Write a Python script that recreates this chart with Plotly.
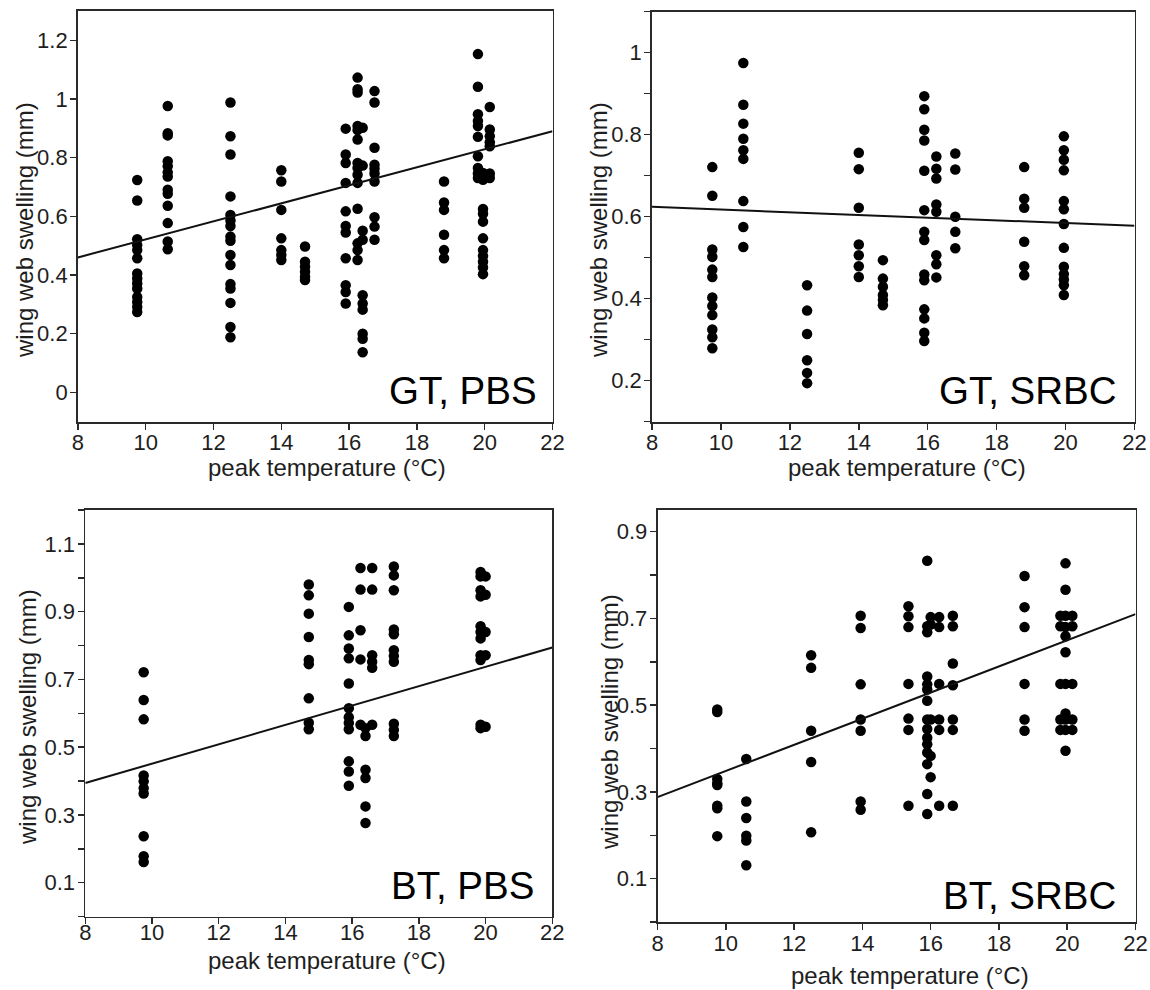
import plotly.graph_objects as go

# ---------------- data ----------------
gt_pbs_temps = [9.75, 10.65, 12.5, 14.0, 14.7, 15.9, 16.25, 16.4, 16.75, 18.8, 19.8, 19.95, 20.15]
gt_pbs_values = [
    [0.724, 0.654, 0.522, 0.502, 0.485, 0.457, 0.405, 0.388, 0.371, 0.354, 0.325, 0.308, 0.291, 0.274],
    [0.976, 0.883, 0.876, 0.788, 0.771, 0.750, 0.736, 0.691, 0.677, 0.636, 0.577, 0.514, 0.488],
    [0.988, 0.873, 0.811, 0.668, 0.605, 0.586, 0.567, 0.531, 0.517, 0.468, 0.434, 0.369, 0.354, 0.305, 0.223, 0.188],
    [0.757, 0.719, 0.622, 0.525, 0.485, 0.468, 0.451],
    [0.497, 0.445, 0.428, 0.411, 0.394, 0.383],
    [0.899, 0.811, 0.782, 0.714, 0.617, 0.567, 0.545, 0.457, 0.365, 0.342, 0.303],
    [1.073, 1.033, 1.022, 0.908, 0.894, 0.862, 0.782, 0.765, 0.742, 0.714, 0.626, 0.508, 0.485, 0.451],
    [0.902, 0.773, 0.551, 0.520, 0.331, 0.303, 0.282, 0.200, 0.183, 0.137],
    [1.027, 0.988, 0.834, 0.776, 0.762, 0.746, 0.719, 0.597, 0.565, 0.520],
    [0.719, 0.647, 0.622, 0.537, 0.485, 0.457],
    [1.153, 1.042, 0.948, 0.925, 0.908, 0.871, 0.805, 0.765, 0.746, 0.731],
    [0.748, 0.725, 0.625, 0.609, 0.582, 0.525, 0.485, 0.465, 0.445, 0.426, 0.403],
    [0.973, 0.896, 0.873, 0.853, 0.839, 0.746, 0.731],
]

gt_srbc_temps = [9.75, 10.65, 12.5, 14.0, 14.7, 15.9, 16.25, 16.8, 18.8, 19.95]
gt_srbc_values = [
    [0.721, 0.651, 0.520, 0.502, 0.471, 0.453, 0.403, 0.382, 0.360, 0.325, 0.306, 0.279],
    [0.975, 0.873, 0.827, 0.790, 0.762, 0.741, 0.638, 0.575, 0.526],
    [0.433, 0.371, 0.314, 0.250, 0.219, 0.194],
    [0.756, 0.716, 0.622, 0.532, 0.506, 0.479, 0.453],
    [0.494, 0.449, 0.429, 0.409, 0.397, 0.384],
    [0.894, 0.862, 0.812, 0.786, 0.712, 0.616, 0.563, 0.543, 0.459, 0.445, 0.374, 0.352, 0.317, 0.297],
    [0.747, 0.717, 0.693, 0.630, 0.612, 0.506, 0.484, 0.452],
    [0.754, 0.715, 0.600, 0.563, 0.523],
    [0.721, 0.644, 0.622, 0.539, 0.479, 0.457],
    [0.796, 0.762, 0.739, 0.713, 0.638, 0.618, 0.582, 0.524, 0.478, 0.460, 0.447, 0.433, 0.409],
]

bt_pbs_temps = [9.75, 14.7, 15.9, 16.25, 16.4, 16.6, 17.25, 19.85, 20.0]
bt_pbs_values = [
    [0.721, 0.639, 0.582, 0.416, 0.399, 0.379, 0.363, 0.237, 0.178, 0.161],
    [0.980, 0.948, 0.894, 0.825, 0.757, 0.745, 0.644, 0.572, 0.553],
    [0.914, 0.830, 0.791, 0.762, 0.688, 0.615, 0.588, 0.571, 0.553, 0.458, 0.428, 0.386],
    [1.029, 0.965, 0.845, 0.759, 0.566],
    [0.556, 0.533, 0.433, 0.409, 0.325, 0.276],
    [1.029, 0.965, 0.771, 0.752, 0.734, 0.566],
    [1.033, 1.007, 0.963, 0.847, 0.833, 0.786, 0.769, 0.752, 0.569, 0.551, 0.533],
    [1.017, 1.004, 0.963, 0.945, 0.857, 0.840, 0.821, 0.771, 0.757, 0.566, 0.556],
    [1.004, 0.950, 0.840, 0.771, 0.560],
]

bt_srbc_temps = [9.75, 10.6, 12.5, 13.95, 15.35, 15.9, 16.0, 16.25, 16.65, 18.75, 19.8, 19.95, 20.15]
bt_srbc_values = [
    [0.490, 0.484, 0.330, 0.320, 0.316, 0.268, 0.262, 0.198],
    [0.376, 0.278, 0.240, 0.199, 0.188, 0.131],
    [0.615, 0.586, 0.441, 0.369, 0.207],
    [0.706, 0.678, 0.548, 0.467, 0.441, 0.278, 0.259],
    [0.728, 0.705, 0.680, 0.549, 0.469, 0.443, 0.268],
    [0.833, 0.682, 0.668, 0.566, 0.548, 0.536, 0.510, 0.467, 0.445, 0.425, 0.410, 0.391, 0.364, 0.295, 0.249],
    [0.703, 0.686, 0.467, 0.383, 0.334],
    [0.703, 0.680, 0.549, 0.467, 0.443, 0.268],
    [0.706, 0.682, 0.596, 0.546, 0.467, 0.443, 0.268],
    [0.798, 0.726, 0.680, 0.549, 0.467, 0.441],
    [0.706, 0.682, 0.549, 0.467, 0.443],
    [0.827, 0.766, 0.706, 0.680, 0.659, 0.622, 0.549, 0.481, 0.467, 0.443, 0.395],
    [0.706, 0.682, 0.549, 0.467, 0.443],
]

# regression line end values at temperature 8 and 22
fit_temps = [8, 22]
gt_pbs_fit = [0.460, 0.890]
gt_srbc_fit = [0.624, 0.578]
bt_pbs_fit = [0.394, 0.794]
bt_srbc_fit = [0.288, 0.710]

panel_labels = ["GT, PBS", "GT, SRBC", "BT, PBS", "BT, SRBC"]
x_title = "peak temperature (\u00b0C)"
y_title = "wing web swelling (mm)"

# ---------------- layout helpers ----------------
W, H = 1150, 990
FONT = "Liberation Sans, Arial, Helvetica, sans-serif"
LC = "#2a2a2a"
TC = "#1e1e1e"


def px(x):
    return x / W


def py(y):
    return 1 - y / H


def expand(temps, values):
    xs, ys = [], []
    for t, vals in zip(temps, values):
        for v in vals:
            xs.append(t)
            ys.append(v)
    return xs, ys


panels = [
    dict(temps=gt_pbs_temps, values=gt_pbs_values, fit=gt_pbs_fit,
         xd=[77.9, 552.5], yd=[11, 421.7], yr=[-0.1, 1.3], tick0=0, minor=False, xso=-6,
         lab=(538, 390), xt=(327, 467), yt=(25, 230)),
    dict(temps=gt_srbc_temps, values=gt_srbc_values, fit=gt_srbc_fit,
         xd=[652, 1134.5], yd=[11.7, 421.7], yr=[0.1, 1.1], tick0=0.2, minor=True, xso=-6,
         lab=(1118, 390), xt=(907, 467), yt=(599, 230)),
    dict(temps=bt_pbs_temps, values=bt_pbs_values, fit=bt_pbs_fit,
         xd=[85.3, 552.3], yd=[510, 916.5], yr=[0, 1.2], tick0=0.1, minor=True, xso=-11,
         lab=(535, 885), xt=(327, 960), yt=(27, 717)),
    dict(temps=bt_srbc_temps, values=bt_srbc_values, fit=bt_srbc_fit,
         xd=[657.5, 1135.5], yd=[510, 922], yr=[0, 0.95], tick0=0.1, minor=True, xso=-5,
         lab=(1117, 895), xt=(910, 975), yt=(609, 722)),
]

fig = go.Figure()
layout = dict(
    template="none",
    width=W, height=H,
    margin=dict(l=0, r=0, t=0, b=0, pad=0),
    paper_bgcolor="white", plot_bgcolor="white",
    showlegend=False, hovermode=False,
    font=dict(family=FONT, color=TC),
    annotations=[],
)

for i, p in enumerate(panels):
    n = "" if i == 0 else str(i + 1)
    xs, ys = expand(p["temps"], p["values"])
    fig.add_trace(go.Scatter(
        x=xs, y=ys, mode="markers", xaxis="x" + n, yaxis="y" + n,
        marker=dict(size=10.5, color="black", line=dict(width=0)),
        cliponaxis=False,
    ))
    fig.add_trace(go.Scatter(
        x=fit_temps, y=p["fit"], mode="lines", xaxis="x" + n, yaxis="y" + n,
        line=dict(color="#111111", width=2),
    ))
    axis_common = dict(
        showline=True, linecolor=LC, linewidth=1.8, mirror=True,
        ticks="outside", ticklen=6, tickwidth=1.5, tickcolor=LC,
        showgrid=False, zeroline=False, automargin=False,
        tickfont=dict(family=FONT, size=22, color=TC),
    )
    layout["xaxis" + n] = dict(
        domain=[px(p["xd"][0]), px(p["xd"][1])],
        range=[8, 22], tick0=8, dtick=2, ticklabelstandoff=p["xso"],
        anchor="y" + n, **axis_common,
    )
    yax = dict(
        domain=[py(p["yd"][1]), py(p["yd"][0])],
        range=p["yr"], tick0=p["tick0"], dtick=0.2, ticklabelstandoff=-2,
        anchor="x" + n, **axis_common,
    )
    if p["minor"]:
        yax["minor"] = dict(tick0=0, dtick=0.1, ticks="outside", ticklen=6,
                            tickwidth=1.5, tickcolor=LC, showgrid=False)
    layout["yaxis" + n] = yax

    layout["annotations"].append(dict(
        text=panel_labels[i], xref="paper", yref="paper",
        x=px(p["lab"][0]), y=py(p["lab"][1]), xanchor="right", yanchor="middle",
        showarrow=False, borderpad=0, font=dict(family=FONT, size=38.5, color="black"),
    ))
    layout["annotations"].append(dict(
        text=x_title, xref="paper", yref="paper",
        x=px(p["xt"][0]), y=py(p["xt"][1]), xanchor="center", yanchor="middle",
        showarrow=False, borderpad=0, font=dict(family=FONT, size=24, color=TC),
    ))
    layout["annotations"].append(dict(
        text=y_title, xref="paper", yref="paper", textangle=-90,
        x=px(p["yt"][0]), y=py(p["yt"][1]), xanchor="center", yanchor="middle",
        showarrow=False, borderpad=0, font=dict(family=FONT, size=24, color=TC),
    ))

fig.update_layout(**layout)
# remove the default 8px page margin so the figure fills the window exactly
fig.write_html("out.html", config={"displayModeBar": False, "staticPlot": True},
               post_script="document.body.style.margin='0px';")
